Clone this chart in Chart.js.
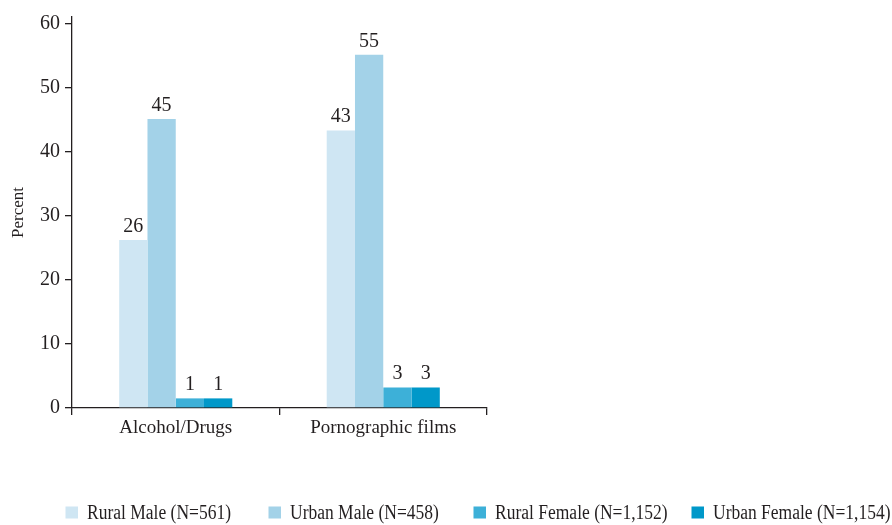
<!DOCTYPE html>
<html>
<head>
<meta charset="utf-8">
<script src="https://cdn.jsdelivr.net/npm/chart.js@4.4.1/dist/chart.umd.min.js"></script>
<style>
  html, body { margin: 0; padding: 0; background: #fff; }
  #wrap { width: 892px; height: 525px; position: relative; }
</style>
</head>
<body>
<div id="wrap"><canvas id="abuseChart"></canvas></div>
<script>
var categories = ["Alcohol/Drugs", "Pornographic films"];
var seriesNames = [
  "Rural Male (N=561)",
  "Urban Male (N=458)",
  "Rural Female (N=1,152)",
  "Urban Female (N=1,154)",
];
var ruralMale = [26.2, 43.3];
var urbanMale = [45.1, 55.1];
var ruralFemale = [1.5, 3.2];
var urbanFemale = [1.5, 3.2];
// numbers printed above the bars
var ruralMaleLabels = ["26", "43"];
var urbanMaleLabels = ["45", "55"];
var ruralFemaleLabels = ["1", "3"];
var urbanFemaleLabels = ["1", "3"];
var yTicks = [0, 10, 20, 30, 40, 50, 60];

var colors = ["#cfe6f3", "#a3d2e8", "#3db0d8", "#0098c9"];
var ink = "#231f20";
var serif = '"Liberation Serif", "Times New Roman", serif';

var valueLabels = [ruralMaleLabels, urbanMaleLabels, ruralFemaleLabels, urbanFemaleLabels];

var barLabelsPlugin = {
  id: "barLabels",
  afterDatasetsDraw: function (chart) {
    var ctx = chart.ctx;
    ctx.save();
    ctx.font = "20px " + serif;
    ctx.fillStyle = ink;
    ctx.textAlign = "center";
    ctx.textBaseline = "alphabetic";
    chart.data.datasets.forEach(function (ds, i) {
      chart.getDatasetMeta(i).data.forEach(function (bar, j) {
        ctx.fillText(valueLabels[i][j], bar.x, bar.y - 8);
      });
    });
    ctx.restore();
  },
};

// legend along the bottom, text a bit narrower like the printed figure
var narrowLegendPlugin = {
  id: "narrowLegend",
  afterDraw: function (chart) {
    var ctx = chart.ctx;
    var squeeze = 0.875;
    var boxW = 12.5, boxH = 12, gap = 9;
    var itemX = [65.5, 268.5, 473.5, 691.5];
    var boxTop = 506.5;
    var baseline = 518.5;
    ctx.save();
    ctx.font = "20px " + serif;
    chart.data.datasets.forEach(function (ds, i) {
      var x = itemX[i];
      ctx.fillStyle = ds.backgroundColor;
      ctx.fillRect(x, boxTop, boxW, boxH);
      ctx.save();
      ctx.translate(x + boxW + gap, baseline);
      ctx.scale(squeeze, 1);
      ctx.fillStyle = ink;
      ctx.textAlign = "left";
      ctx.textBaseline = "alphabetic";
      ctx.fillText(ds.label, 0, 0);
      ctx.restore();
    });
    ctx.restore();
  },
};

var ctx = document.getElementById("abuseChart").getContext("2d");
var abuseChart = new Chart(ctx, {
  type: "bar",
  plugins: [barLabelsPlugin, narrowLegendPlugin],
  data: {
    labels: categories,
    datasets: [
      { label: seriesNames[0], data: ruralMale, backgroundColor: colors[0] },
      { label: seriesNames[1], data: urbanMale, backgroundColor: colors[1] },
      { label: seriesNames[2], data: ruralFemale, backgroundColor: colors[2] },
      { label: seriesNames[3], data: urbanFemale, backgroundColor: colors[3] },
    ],
  },
  options: {
    responsive: true,
    maintainAspectRatio: false,
    animation: false,
    categoryPercentage: 0.545,
    barPercentage: 1,
    layout: {
      padding: { left: 0, right: 405, top: 12, bottom: 0 },
    },
    plugins: {
      legend: { display: false },
      tooltip: { enabled: false },
    },
    scales: {
      x: {
        grid: {
          display: true,
          offset: true,
          drawOnChartArea: false,
          drawTicks: true,
          tickLength: 7,
          color: ink,
          lineWidth: 1.3,
        },
        border: { display: true, color: ink, width: 1.3 },
        ticks: {
          color: ink,
          font: { family: serif, size: 19 },
          padding: 2,
        },
        afterFit: function (scale) {
          scale.height = 117;
        },
      },
      y: {
        min: 0,
        max: 61,
        afterBuildTicks: function (scale) {
          scale.ticks = yTicks.map(function (v) { return { value: v }; });
        },
        grid: {
          display: true,
          drawOnChartArea: false,
          drawTicks: true,
          tickLength: 7,
          color: ink,
          lineWidth: 1.3,
        },
        border: { display: true, color: ink, width: 1.3 },
        ticks: {
          color: ink,
          font: { family: serif, size: 20 },
          padding: 5,
        },
        title: {
          display: true,
          text: "Percent",
          color: ink,
          font: { family: serif, size: 17 },
          padding: { top: 8, bottom: 0 },
        },
        afterFit: function (scale) {
          scale.width = 72;
        },
      },
    },
  },
});
</script>
</body>
</html>
